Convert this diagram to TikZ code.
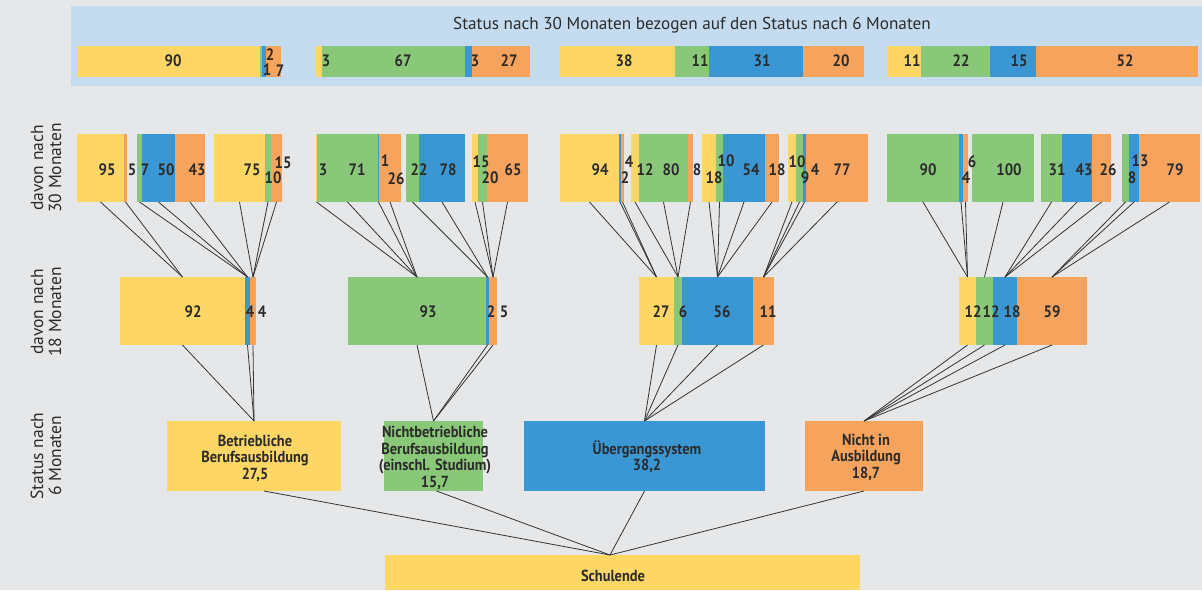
\documentclass[tikz,border=0pt]{standalone}
\usepackage{fontspec}
\setmainfont{PT Sans}
\newfontfamily\nf{PT Sans}[FakeStretch=0.9]
\definecolor{cy}{HTML}{FDD666}
\definecolor{cg}{HTML}{89C878}
\definecolor{cb}{HTML}{3A97D3}
\definecolor{co}{HTML}{F6A35D}
\definecolor{bgc}{HTML}{E6E7E9}
\definecolor{bandc}{HTML}{C5DBEF}
\definecolor{txt}{HTML}{2B2B2B}
\newcommand\sg[6]{\node[seg,fill=#6,minimum width={(#3-#2)*1pt},minimum height={(#5-#4)*1pt}] (#1) at ({(#2+#3)/2},{(#4+#5)/2}) {};}
\newcommand\bb[4]{\sg{#1}{#2}{#3}{46}{77}{#4}}
\newcommand\tb[4]{\sg{#1}{#2}{#3}{134}{202}{#4}}
\newcommand\mb[4]{\sg{#1}{#2}{#3}{277}{345}{#4}}
\newcommand\lab[4]{\node[num] (#1) at (#2,#3) {#4};}
\begin{document}
\begin{tikzpicture}[x=1pt,y=-1pt,
  seg/.style={rectangle,inner sep=0pt,outer sep=0pt,draw=none},
  num/.style={font=\nf\bfseries\fontsize{16.5}{18}\selectfont,text=txt,inner sep=0pt},
  boxlab/.style={font=\nf\bfseries\fontsize{16}{16.5}\selectfont,text=txt,align=center,inner sep=0pt},
  side/.style={font=\fontsize{17.5}{18}\selectfont,text=txt,align=center,rotate=90,inner sep=0pt},
  conn/.style={draw=black!80,line width=0.8pt}]
\fill[bgc] (0,0) rectangle (1202,590);
\useasboundingbox (0,0) rectangle (1202,590);
\fill[bandc] (71,6) rectangle (1202,86);
\node[font=\fontsize{17.2}{20}\selectfont,text=txt,inner sep=0pt] (title) at (692,25) {Status nach 30 Monaten bezogen auf den Status nach 6 Monaten};
% top band bars
\bb{t1y}{77}{260}{cy}\bb{t1g}{260}{262}{cg}\bb{t1b}{262}{266}{cb}\bb{t1o}{266}{281}{co}
\bb{t2y}{316}{322}{cy}\bb{t2g}{322}{465}{cg}\bb{t2b}{465}{472}{cb}\bb{t2o}{472}{530}{co}
\bb{t3y}{560}{675}{cy}\bb{t3g}{675}{709}{cg}\bb{t3b}{709}{803}{cb}\bb{t3o}{803}{864}{co}
\bb{t4y}{887}{921}{cy}\bb{t4g}{921}{990}{cg}\bb{t4b}{990}{1036}{cb}\bb{t4o}{1036}{1198}{co}
\lab{lt1}{173}{61}{90}\lab{lt2}{270}{55}{2}\lab{lt3}{267}{70}{1}\lab{lt4}{280}{71}{7}
\lab{lt5}{326}{61}{3}\lab{lt6}{403}{61}{67}\lab{lt7}{475}{61}{3}\lab{lt8}{509}{61}{27}
\lab{lt9}{624}{61}{38}\lab{lt10}{700}{61}{11}\lab{lt11}{762}{61}{31}\lab{lt12}{841}{61}{20}
\lab{lt13}{912}{61}{11}\lab{lt14}{961}{61}{22}\lab{lt15}{1019}{61}{15}\lab{lt16}{1125}{61}{52}
% 30 month bars
\tb{p11y}{77}{124}{cy}\tb{p11o}{124}{127}{co}
\tb{p12g}{137}{142}{cg}\tb{p12b}{142}{175}{cb}\tb{p12o}{175}{205}{co}
\tb{p13y}{214}{265}{cy}\tb{p13g}{265}{271}{cg}\tb{p13o}{271}{282}{co}
\tb{p21y}{316}{317}{cy}\tb{p21g}{317}{378}{cg}\tb{p21b}{378}{379}{cb}\tb{p21o}{379}{401}{co}
\tb{p22g}{406}{419}{cg}\tb{p22b}{419}{465}{cb}
\tb{p23y}{472}{478}{cy}\tb{p23g}{478}{487}{cg}\tb{p23o}{487}{528}{co}
\tb{p31y}{560}{619}{cy}\tb{p31b}{619}{621}{cb}\tb{p31o}{621}{624}{co}
\tb{p32y}{631}{639}{cy}\tb{p32g}{639}{688}{cg}\tb{p32o}{688}{693}{co}
\tb{p33y}{702}{716}{cy}\tb{p33g}{716}{723}{cg}\tb{p33b}{723}{765}{cb}\tb{p33o}{765}{779}{co}
\tb{p34y}{788}{796}{cy}\tb{p34g}{796}{803}{cg}\tb{p34b}{803}{806}{cb}\tb{p34o}{806}{868}{co}
\tb{p41g}{887}{959}{cg}\tb{p41b}{959}{963}{cb}\tb{p41o}{963}{968}{co}
\tb{p42g}{972}{1034}{cg}
\tb{p43g}{1041}{1062}{cg}\tb{p43b}{1062}{1092}{cb}\tb{p43o}{1092}{1111}{co}
\tb{p44g}{1122}{1129}{cg}\tb{p44b}{1129}{1139}{cb}\tb{p44o}{1139}{1200}{co}
\lab{la1}{107}{170}{95}\lab{la2}{132}{170}{5}\lab{la3}{145}{170}{7}\lab{la4}{166}{170}{50}\lab{la5}{197}{170}{43}
\lab{la6}{252}{170}{75}\lab{la7}{273}{178}{10}\lab{la8}{283}{163}{15}
\lab{la9}{323}{170}{3}\lab{la10}{357}{170}{71}\lab{la11}{385}{161}{1}\lab{la12}{396}{179}{26}
\lab{la13}{419}{170}{22}\lab{la14}{448}{170}{78}\lab{la15}{481}{162}{15}\lab{la16}{490}{178}{20}\lab{la17}{513}{170}{65}
\lab{la18}{600}{170}{94}\lab{la19}{629}{162}{4}\lab{la20}{625}{178}{2}
\lab{la21}{645}{170}{12}\lab{la22}{671}{170}{80}\lab{la23}{697}{170}{8}
\lab{la24}{714}{178}{18}\lab{la25}{726}{161}{10}\lab{la26}{751}{170}{54}\lab{la27}{777}{170}{18}
\lab{la28}{797}{162}{10}\lab{la29}{805}{178}{9}\lab{la30}{815}{170}{4}\lab{la31}{842}{170}{77}
\lab{la32}{928}{170}{90}\lab{la33}{972}{162}{6}\lab{la34}{966}{178}{4}\lab{la35}{1009}{170}{100}
\lab{la36}{1057}{170}{31}\lab{la37}{1084}{170}{43}\lab{la38}{1108}{170}{26}
\lab{la39}{1132}{178}{8}\lab{la40}{1140}{161}{13}\lab{la41}{1175}{170}{79}
% 18 month bars
\mb{m1y}{120}{245}{cy}\mb{m1b}{245}{250}{cb}\mb{m1o}{250}{256}{co}
\mb{m2g}{348}{486}{cg}\mb{m2b}{486}{489}{cb}\mb{m2o}{489}{497}{co}
\mb{m3y}{639}{674}{cy}\mb{m3g}{674}{682}{cg}\mb{m3b}{682}{753}{cb}\mb{m3o}{753}{774}{co}
\mb{m4y}{959}{976}{cy}\mb{m4g}{976}{993}{cg}\mb{m4b}{993}{1017}{cb}\mb{m4o}{1017}{1087}{co}
\lab{lm1}{193}{312}{92}\lab{lm2}{250}{312}{4}\lab{lm3}{262}{312}{4}
\lab{lm4}{428}{312}{93}\lab{lm5}{491}{312}{2}\lab{lm6}{504}{312}{5}
\lab{lm7}{661}{312}{27}\lab{lm8}{683}{312}{6}\lab{lm9}{722}{312}{56}\lab{lm10}{768}{312}{11}
\lab{lm11}{973}{312}{12}\lab{lm12}{991}{312}{12}\lab{lm13}{1012}{312}{18}\lab{lm14}{1052}{312}{59}
% 6 month boxes
\sg{s1}{167}{341}{421}{491}{cy}
\sg{s2}{384}{483}{421}{491}{cg}
\sg{s3}{524}{765}{421}{491}{cb}
\sg{s4}{805}{923}{421}{491}{co}
\sg{su}{385}{860}{555}{590}{cy}
\node[boxlab] (ls1) at (255,458) {Betriebliche\\Berufsausbildung\\27,5};
\node[boxlab] (ls2) at (435,458) {Nichtbetriebliche\\Berufsausbildung\\(einschl. Studium)\\15,7};
\node[boxlab] (ls3) at (647,457) {Übergangssystem\\38,2};
\node[boxlab] (ls4) at (866,457) {Nicht in\\Ausbildung\\18,7};
\node[boxlab] (lsu) at (613,576) {Schulende};
% side labels
\node[side] (sd1) at (46,168) {davon nach\\30 Monaten};
\node[side] (sd2) at (46,312) {davon nach\\18 Monaten};
\node[side] (sd3) at (46,456) {Status nach\\6 Monaten};
% connectors
\foreach \a/\b in {p11y/m1y,p11o/m1y,p12g/m1b,p12b/m1b,p12o/m1b,p13y/m1o,p13g/m1o,p13o/m1o,
  p21y/m2g,p21g/m2g,p21b/m2g,p21o/m2g,p22g/m2b,p22b/m2b,p23y/m2o,p23g/m2o,p23o/m2o,
  p31y/m3y,p31b/m3y,p31o/m3y,p32y/m3g,p32g/m3g,p32o/m3g,p33y/m3b,p33g/m3b,p33b/m3b,p33o/m3b,
  p34y/m3o,p34g/m3o,p34b/m3o,p34o/m3o,
  p41g/m4y,p41b/m4y,p41o/m4y,p42g/m4g,p43g/m4b,p43b/m4b,p43o/m4b,p44g/m4o,p44b/m4o,p44o/m4o,
  m1y/s1,m1b/s1,m1o/s1,m2g/s2,m2b/s2,m2o/s2,m3y/s3,m3g/s3,m3b/s3,m3o/s3,
  m4y/s4,m4g/s4,m4b/s4,m4o/s4}
  \draw[conn] (\a.south) -- (\b.north);
\coordinate (sj) at (610,555);
\draw[conn] ([xshift=10pt]s1.south) -- (sj);
\draw[conn] ([xshift=3pt]s2.south) -- (sj);
\draw[conn] (s3.south) -- (sj);
\draw[conn] (s4.south) -- (sj);
\end{tikzpicture}
\end{document}
